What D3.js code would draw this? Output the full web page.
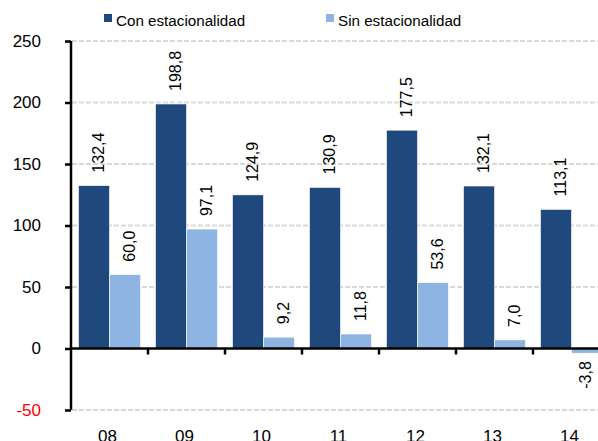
<!DOCTYPE html>
<html>
<head>
<meta charset="utf-8">
<script src="https://cdn.jsdelivr.net/npm/d3@7"></script>
<style>
  body { margin: 0; background: #fff; }
  svg { display: block; font-family: "Liberation Sans", Arial, Helvetica, sans-serif; }
</style>
</head>
<body>
<svg id="chart"></svg>
<script>
let categories = ['08', '09', '10', '11', '12', '13', '14']
let seriesNames = ['Con estacionalidad', 'Sin estacionalidad']
let conValues = [132.4, 198.8, 124.9, 130.9, 177.5, 132.1, 113.1]
let sinValues = [60.0, 97.1, 9.2, 11.8, 53.6, 7.0, -3.8]
let yTicks = [-50, 0, 50, 100, 150, 200, 250]
let colors = ['#1f497d', '#8db4e2']

let width = 598
let height = 441

let svg = d3.select('#chart').attr('width', width).attr('height', height)

let xScale = d3.scaleBand().domain(categories).range([71, 610])
let xInner = d3.scaleBand().domain(seriesNames).range([0, xScale.bandwidth()]).paddingOuter(0.242)
let yScale = d3.scaleLinear().domain([-50, 250]).range([410, 41])

// comma decimals and a plain hyphen for negatives, as in the picture
let fmt = (v) => v.toFixed(1).replace('.', ',')

// gridlines
svg.append('g')
    .selectAll('line')
    .data(yTicks.filter(t => t !== 0))
    .enter()
    .append('line')
    .attr('x1', 72)
    .attr('x2', width)
    .attr('y1', d => yScale(d))
    .attr('y2', d => yScale(d))
    .attr('stroke', '#d9d9d9')
    .attr('stroke-width', 2)
    .attr('stroke-dasharray', '5,2')

// bars
let rows = categories.map((c, i) => ({ cat: c, vals: [conValues[i], sinValues[i]] }))

let groups = svg.selectAll('.grp')
    .data(rows)
    .enter()
    .append('g')
    .attr('transform', d => 'translate(' + xScale(d.cat) + ',0)')

groups.selectAll('rect')
    .data(d => d.vals.map((v, j) => ({ name: seriesNames[j], v: v, j: j })))
    .enter()
    .append('rect')
    .attr('x', d => xInner(d.name))
    .attr('width', xInner.bandwidth())
    .attr('y', d => yScale(Math.max(0, d.v)))
    .attr('height', d => Math.abs(yScale(d.v) - yScale(0)))
    .attr('fill', d => colors[d.j])
    .attr('stroke', '#ffffff')
    .attr('stroke-width', 0.6)

groups.selectAll('text')
    .data(d => d.vals.map((v, j) => ({ name: seriesNames[j], v: v })))
    .enter()
    .append('text')
    .attr('transform', d => {
        let cx = xInner(d.name) + xInner.bandwidth() / 2 + (d.v >= 0 ? 4 : -2)
        let y = d.v >= 0 ? yScale(d.v) - 13 : yScale(d.v) + 8
        return 'translate(' + cx + ',' + y + ') rotate(-90)'
    })
    .attr('text-anchor', d => d.v >= 0 ? 'start' : 'end')
    .attr('dy', '0.35em')
    .attr('font-size', 16)
    .attr('fill', '#000')
    .text(d => fmt(d.v))

// y axis
let yAxis = d3.axisLeft(yScale).tickValues(yTicks).tickSize(6).tickFormat(d => String(d))
let gy = svg.append('g')
    .attr('transform', 'translate(71,0)')
    .call(yAxis)
gy.select('.domain').attr('stroke', '#000').attr('stroke-width', 2.5).attr('d', 'M0,' + yScale(250) + 'V' + yScale(-50))
gy.selectAll('.tick line').attr('stroke', '#000').attr('stroke-width', 2.5)
gy.selectAll('.tick text')
    .attr('x', -30)
    .attr('font-size', 17)
    .attr('font-family', '"Liberation Sans", Arial, sans-serif')
    .attr('fill', d => d < 0 ? '#ff0000' : '#000')

// x axis at zero
let xAxis = d3.axisBottom(xScale).tickSize(0).tickFormat('')
let gx = svg.append('g')
    .attr('transform', 'translate(0,' + yScale(0) + ')')
    .call(xAxis)
gx.select('.domain').attr('stroke', '#000').attr('stroke-width', 2.5).attr('d', 'M71,0H' + width)
svg.append('g')
    .selectAll('line')
    .data(categories.slice(1))
    .enter()
    .append('line')
    .attr('x1', d => xScale(d))
    .attr('x2', d => xScale(d))
    .attr('y1', yScale(0))
    .attr('y2', yScale(0) + 6)
    .attr('stroke', '#000')
    .attr('stroke-width', 2.5)

// category labels (bottom, partly cut)
svg.append('g')
    .selectAll('text')
    .data(categories)
    .enter()
    .append('text')
    .attr('x', d => xScale(d) + xScale.bandwidth() / 2 - 2)
    .attr('y', 442)
    .attr('text-anchor', 'middle')
    .attr('font-size', 17)
    .text(d => d)

// legend
let legendX = [104, 326]
let legend = svg.append('g')
    .selectAll('g')
    .data(seriesNames)
    .enter()
    .append('g')
    .attr('transform', (d, i) => 'translate(' + legendX[i] + ',0)')
legend.append('rect')
    .attr('x', 0)
    .attr('y', 14)
    .attr('width', 8)
    .attr('height', 8)
    .attr('fill', (d, i) => colors[i])
legend.append('text')
    .attr('x', 12)
    .attr('y', 26)
    .attr('font-size', 15.2)
    .text(d => d)
</script>
</body>
</html>
